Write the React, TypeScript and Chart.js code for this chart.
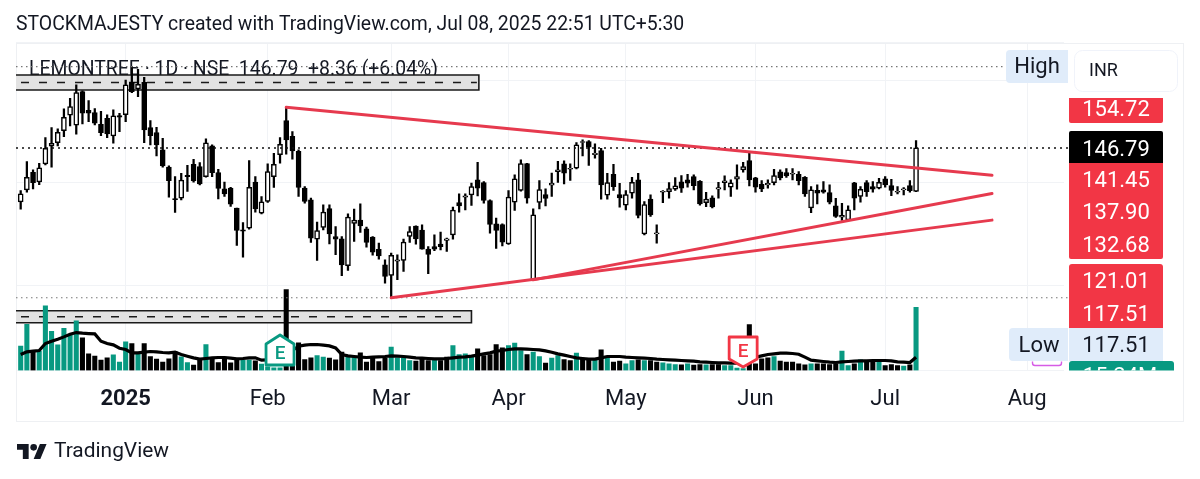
import React, { useEffect, useRef } from "react";
import { Chart, registerables } from "chart.js";

Chart.register(...registerables);

const opens = [136.25,138.59,142.04,140.15,143.67,147.11,147.83,150.17,153.17,151.21,157.79,154.14,153.69,151.41,152.58,149.13,153.10,153.30,159.61,158.31,159.61,150.76,149.78,146.40,143.02,136.90,136.96,141.45,143.60,143.15,141.19,147.18,141.97,138.79,138.92,135.01,130.78,131.11,140.09,134.04,136.31,141.19,145.49,152.13,149.07,146.14,138.92,136.64,128.97,131.24,134.95,129.48,129.03,123.76,132.02,132.67,130.98,129.36,126.95,123.95,121.87,124.67,124.80,129.48,131.50,130.72,127.01,127.53,127.99,128.70,129.81,136.12,137.16,137.62,140.55,140.03,136.51,131.96,131.83,128.05,136.19,138.47,143.74,121.03,136.12,137.68,139.51,142.17,143.67,142.63,142.82,147.84,148.03,145.49,146.27,137.55,141.65,137.68,135.59,137.94,140.54,130.00,136.77,130.00,138.13,138.26,138.72,140.15,140.54,141.19,140.28,136.11,137.03,138.72,140.02,139.11,140.67,142.49,144.31,140.93,139.69,139.56,140.02,142.10,141.97,141.65,141.65,141.06,135.07,138.52,138.59,138.07,135.46,133.25,132.73,139.95,137.29,140.02,139.24,138.91,140.73,139.43,138.13,138.59,139.43,138.30];
const closes = [137.81,141.06,140.02,142.89,146.72,147.70,149.85,152.78,154.86,157.59,153.56,153.56,151.60,149.78,149.52,153.04,152.78,159.09,157.79,159.22,150.30,149.20,147.37,143.28,140.41,136.70,140.48,141.19,140.35,139.76,147.77,141.97,138.85,137.81,135.79,130.65,130.52,139.11,134.88,136.25,142.17,143.60,147.50,148.35,146.20,139.05,136.32,129.16,130.66,134.24,130.00,128.97,123.95,133.26,132.67,131.57,128.31,126.43,125.71,121.68,125.78,124.93,128.38,130.46,129.03,127.01,125.97,127.01,127.47,129.03,134.63,135.47,137.42,139.25,138.92,136.51,131.83,130.66,128.38,137.16,140.74,143.74,136.97,133.71,138.66,136.90,139.90,142.50,141.85,142.82,147.38,148.03,146.92,145.75,139.56,140.02,139.24,137.03,137.68,140.08,133.58,135.72,133.71,130.19,138.33,138.85,139.37,138.91,139.89,139.43,135.85,136.77,135.27,139.04,140.34,139.95,141.19,143.14,140.54,139.11,138.78,139.89,141.39,140.93,141.32,141.84,140.41,137.81,138.59,137.94,138.13,136.18,133.38,133.64,134.68,136.96,138.72,138.26,138.72,140.08,139.56,138.46,138.33,138.78,138.43,146.79];
const highs = [138.46,144.12,142.49,143.80,148.81,150.76,150.50,154.40,156.48,159.09,157.92,156.03,154.47,153.95,153.23,154.21,153.56,160.06,162.66,162.15,160.58,152.13,150.82,148.68,143.28,141.19,141.84,143.41,144.58,143.93,148.55,147.37,142.62,140.09,139.11,135.01,132.21,144.32,141.19,137.29,143.67,145.75,148.81,154.72,149.98,146.40,139.25,136.97,132.28,135.67,135.67,131.44,129.48,133.91,134.82,135.86,131.31,129.48,128.18,124.93,126.23,125.91,128.97,131.44,131.57,131.76,127.53,129.81,130.33,129.16,135.21,137.81,137.81,139.90,143.99,140.22,136.64,133.06,131.96,138.47,141.52,144.45,143.80,134.89,140.42,138.79,141.85,144.19,144.26,143.67,147.84,148.36,148.22,147.57,146.72,141.84,143.60,139.89,138.46,141.06,141.84,136.31,137.61,131.75,138.46,140.02,141.00,141.39,141.65,141.52,140.41,138.13,137.42,140.08,141.32,140.54,143.47,143.99,146.07,141.06,140.41,140.54,142.62,142.49,142.75,142.75,142.17,141.19,139.24,139.56,140.21,139.56,136.96,135.98,135.46,140.08,139.24,140.41,140.21,140.86,141.19,140.67,139.24,139.04,140.41,148.22];
const lows = [134.82,138.13,138.79,139.63,143.47,143.02,147.18,149.00,151.08,149.46,151.47,151.93,151.28,149.20,148.81,147.70,149.98,151.93,157.59,156.81,147.83,147.37,145.23,143.02,137.16,134.17,136.64,138.27,140.09,139.57,141.06,141.19,136.83,137.29,135.34,127.72,125.45,130.91,134.23,133.91,136.12,139.05,143.80,145.55,144.58,137.29,136.00,128.31,124.80,130.79,128.05,125.91,121.81,122.85,128.51,130.27,127.40,125.84,125.06,120.38,117.51,121.03,122.65,128.31,127.99,127.01,122.20,126.69,126.88,126.56,128.97,134.24,134.69,135.54,137.42,135.99,130.14,127.14,127.66,127.92,134.56,138.33,135.99,120.90,134.89,135.47,137.29,140.03,139.77,140.42,142.69,145.23,143.35,144.78,136.77,136.77,138.46,135.20,134.68,136.96,133.12,129.80,133.38,128.18,136.11,136.96,138.46,138.07,139.11,138.59,135.59,135.33,135.07,136.96,138.59,137.29,138.72,142.04,139.37,138.13,138.26,138.91,139.56,140.54,141.00,140.54,139.56,137.29,134.16,135.85,137.94,135.85,133.19,132.60,132.60,134.68,136.18,137.29,138.13,138.78,139.11,137.48,137.81,137.61,138.13,138.26];
const volumes = [5.84,11.12,4.48,4.64,15.52,9.44,6.16,10.16,8.48,11.92,7.84,4.00,3.44,2.48,3.04,3.76,2.00,6.88,6.48,3.92,6.48,3.36,2.72,2.00,2.80,4.48,3.28,1.92,1.28,2.72,6.24,2.88,1.92,3.04,1.84,2.88,2.48,2.48,2.32,1.52,0.88,0.64,0.64,19.44,2.40,6.64,2.64,3.04,3.60,3.20,2.96,2.56,4.40,3.36,3.20,4.24,2.00,3.04,2.16,2.96,5.60,3.04,3.04,2.40,2.24,3.04,2.40,2.80,2.40,3.20,6.00,3.84,4.00,3.20,5.20,3.60,3.84,6.24,5.44,6.00,6.56,4.80,3.84,4.40,3.36,1.76,2.96,3.60,2.64,2.40,4.16,2.80,2.56,2.56,4.96,3.04,2.00,2.24,1.60,2.40,2.56,2.40,2.40,2.00,1.84,1.60,1.44,1.36,1.60,1.28,1.44,1.36,1.44,1.44,1.20,1.20,0.56,0.48,11.04,1.60,2.80,3.04,3.36,2.24,2.00,2.00,1.60,1.36,1.60,1.60,1.60,1.44,1.60,4.64,1.20,1.60,2.56,2.00,2.00,2.00,1.20,1.44,1.20,1.04,1.36,15.20];
const volumeUpDays = [0,1,3,4,5,6,7,8,9,15,16,17,19,26,27,30,36,37,39,40,41,42,48,49,53,54,60,61,62,63,67,70,71,72,73,79,80,81,83,84,86,87,90,93,95,98,99,101,104,105,106,108,111,114,115,116,117,122,128,133,134,136,139,143,145];
const volumeAverage = [3.84,4.48,4.64,4.80,6.48,7.04,7.52,8.08,8.72,9.12,8.96,8.88,8.80,7.04,6.48,6.16,5.36,5.04,4.24,4.24,4.40,4.56,4.48,4.32,4.24,4.40,3.84,3.44,3.04,2.72,2.88,3.04,3.12,3.12,2.96,2.80,2.88,3.04,3.04,2.48,2.56,2.56,2.64,3.60,4.80,5.84,6.08,6.24,6.24,6.08,5.92,5.44,3.84,3.52,3.36,3.20,3.12,3.20,3.28,3.36,3.52,3.44,3.36,3.20,3.04,2.96,2.88,2.80,2.80,2.88,3.04,3.20,3.28,3.44,3.68,4.00,4.24,4.64,4.80,5.04,5.20,5.20,5.12,5.04,4.96,4.72,4.40,4.00,3.68,3.36,3.04,2.88,2.72,2.72,3.04,3.36,3.36,3.36,3.20,3.12,3.04,2.96,2.88,2.72,2.64,2.56,2.48,2.40,2.32,2.24,2.08,2.00,1.92,1.84,1.84,1.76,1.76,1.76,2.40,3.20,3.52,3.84,4.00,4.16,4.16,4.08,3.92,3.20,2.48,2.32,2.16,2.00,1.92,2.08,2.16,2.24,2.32,2.32,2.40,2.40,2.40,2.32,2.08,2.00,1.92,3.20];

const tickIndexes = [17, 40, 60, 79, 98, 119, 140, 163];
const tickLabels = ["2025", "Feb", "Mar", "Apr", "May", "Jun", "Jul", "Aug"];

const trendA = [{ x: 43, y: 154.72 }, { x: 157.3, y: 141.45 }];
const trendB = [{ x: 83, y: 121.01 }, { x: 157.3, y: 137.9 }];
const trendC = [{ x: 60, y: 117.51 }, { x: 157.3, y: 132.68 }];

const lastPrice = 146.79;
const highPrice = 162.66;
const lowPrice = 117.51;
const upperBand = { top: 161.04, bottom: 158.11, end: 74.2 };
const lowerBand = { top: 114.97, bottom: 112.62, end: 73 };
const earningsDays = [42, 117];

const titleText = "STOCKMAJESTY created with TradingView.com, Jul 08, 2025 22:51 UTC+5:30";
const legendText = "LEMONTREE · 1D · NSE  146.79  +8.36 (+6.04%)";
const redTagTexts = ["154.72", "141.45", "137.90", "132.68", "121.01", "117.51"];
const volumeTagText = "15.24M";

const X_MIN = -0.76;
const X_MAX = 168.96;
const FONT = "Roboto, sans-serif";
const RED = "#f23645";
const GREEN = "#089981";
const INK = "#131722";
const BLUE = "#e0ecfa";
const GRID = "#f1f3f6";

const roundedRect = (ctx: any, x: number, y: number, w: number, h: number, r: any, fill: string, stroke?: string) => {
  ctx.beginPath();
  ctx.roundRect(x, y, w, h, r);
  ctx.fillStyle = fill;
  ctx.fill();
  if (stroke) {
    ctx.strokeStyle = stroke;
    ctx.lineWidth = 1;
    ctx.stroke();
  }
};

const drawText = (ctx: any, text: string, x: number, y: number, color: string, size: number, align = "center", weight = "400") => {
  ctx.font = `${weight} ${size}px ${FONT}`;
  ctx.fillStyle = color;
  ctx.textAlign = align;
  ctx.textBaseline = "middle";
  ctx.fillText(text, x, y);
};

const backdrop = {
  id: "backdrop",
  beforeDatasetsDraw(chart: any) {
    const { ctx, scales } = chart;
    ctx.save();
    ctx.strokeStyle = "#eef0f3";
    ctx.lineWidth = 1;
    ctx.strokeRect(16.5, 43.5, 1167, 378);
    ctx.font = `400 19.4px ${FONT}`;
    ctx.fillStyle = INK;
    ctx.textAlign = "left";
    ctx.textBaseline = "alphabetic";
    ctx.fillText(legendText, 29, 75);
    for (const band of [upperBand, lowerBand]) {
      const l = scales.x.getPixelForValue(X_MIN);
      const r = scales.x.getPixelForValue(band.end);
      const t = scales.y.getPixelForValue(band.top);
      const b = scales.y.getPixelForValue(band.bottom);
      ctx.fillStyle = "#e2e2e2";
      ctx.fillRect(l, t, r - l, b - t);
      ctx.strokeStyle = "#1a1a1a";
      ctx.lineWidth = 1.6;
      ctx.beginPath();
      ctx.moveTo(l, t);
      ctx.lineTo(r, t);
      ctx.lineTo(r, b);
      ctx.lineTo(l, b);
      ctx.stroke();
      ctx.setLineDash([8, 10]);
      ctx.lineWidth = 1.4;
      ctx.beginPath();
      ctx.moveTo(l + 5, (t + b) / 2);
      ctx.lineTo(r - 2, (t + b) / 2);
      ctx.stroke();
      ctx.setLineDash([]);
    }
    ctx.restore();
  },
};

const overlay = {
  id: "overlay",
  afterDraw(chart: any) {
    const { ctx, scales } = chart;
    ctx.save();

    // earnings flags
    earningsDays.forEach((day, k) => {
      const cx = scales.x.getPixelForValue(day);
      const color = k === 0 ? GREEN : RED;
      const top = k === 0 ? 335 : 337;
      ctx.beginPath();
      if (k === 0) {
        ctx.moveTo(cx, top);
        ctx.lineTo(cx + 14, top + 9);
        ctx.lineTo(cx + 14, top + 30);
        ctx.lineTo(cx - 14, top + 30);
        ctx.lineTo(cx - 14, top + 9);
      } else {
        ctx.moveTo(cx - 14, top);
        ctx.lineTo(cx + 14, top);
        ctx.lineTo(cx + 14, top + 22);
        ctx.lineTo(cx, top + 30);
        ctx.lineTo(cx - 14, top + 22);
      }
      ctx.closePath();
      ctx.fillStyle = "#ffffff";
      ctx.fill();
      ctx.strokeStyle = color;
      ctx.lineWidth = 2.8;
      ctx.lineJoin = "round";
      ctx.stroke();
      drawText(ctx, "E", cx, k === 0 ? top + 19 : top + 15, color, 19, "center", "500");
    });

    // price tags
    roundedRect(ctx, 1006, 50, 62, 33, [4, 0, 0, 4], BLUE);
    drawText(ctx, "High", 1037, 67.5, INK, 22);
    roundedRect(ctx, 1074.5, 50.5, 103, 41, 8, "#ffffff", "#f0f3fa");
    drawText(ctx, "INR", 1089, 71.5, INK, 18, "left");

    roundedRect(ctx, 1069, 98, 94, 25, [0, 0, 2, 2], RED);
    roundedRect(ctx, 1069, 163, 94, 96, [0, 0, 2, 2], RED);
    roundedRect(ctx, 1069, 264, 94, 64, [3, 3, 0, 0], RED);
    roundedRect(ctx, 1069, 131, 94, 32, [2, 2, 0, 0], "#000000");
    drawText(ctx, lastPrice.toFixed(2), 1116, 150, "#ffffff", 22);
    const redCenters = [110, 181.5, 213.5, 246, 282.5, 315];
    redTagTexts.forEach((t, i) => drawText(ctx, t, 1116, redCenters[i], "#ffffff", 22));

    roundedRect(ctx, 1009, 328, 59, 33, [4, 0, 0, 4], BLUE);
    drawText(ctx, "Low", 1039, 346.5, INK, 22);
    ctx.fillStyle = BLUE;
    ctx.fillRect(1069, 328, 94, 33);
    drawText(ctx, lowPrice.toFixed(2), 1116, 346.5, INK, 22);

    // volume tag, cut off by the time scale as in the source
    ctx.save();
    ctx.beginPath();
    ctx.rect(1060, 355, 125, 15.5);
    ctx.clip();
    roundedRect(ctx, 1069, 361, 105, 20, [3, 3, 0, 0], GREEN);
    drawText(ctx, volumeTagText, 1120, 377.5, "#ffffff", 22);
    ctx.restore();

    // small bracket under Low
    ctx.strokeStyle = "#d65ce6";
    ctx.lineWidth = 1.4;
    ctx.beginPath();
    ctx.moveTo(1032.5, 361.5);
    ctx.lineTo(1032.5, 363);
    ctx.quadraticCurveTo(1032.5, 365.5, 1035, 365.5);
    ctx.lineTo(1059, 365.5);
    ctx.quadraticCurveTo(1061.5, 365.5, 1061.5, 363);
    ctx.lineTo(1061.5, 361.5);
    ctx.stroke();

    // footer logo and word mark
    ctx.translate(17, 440.7);
    ctx.scale(0.833, 0.833);
    ctx.fillStyle = INK;
    ctx.fill(new Path2D("M14 22H7V11H0V4h14v18zM28 22h-8l7.5-18h8L28 22z"));
    ctx.beginPath();
    ctx.arc(20, 8, 4, 0, Math.PI * 2);
    ctx.fill();
    ctx.setTransform(1, 0, 0, 1, 0, 0);
    drawText(ctx, "TradingView", 54, 452, INK, 20.9, "left");
    ctx.restore();
  },
};

const flatLine = (value: number, end: number, color: string, dash: number[], width: number, order: number) => ({
  type: "line",
  data: [{ x: X_MIN, y: value }, { x: end, y: value }],
  yAxisID: "y",
  borderColor: color,
  borderDash: dash,
  borderWidth: width,
  pointRadius: 0,
  clip: false,
  order,
});

const trendLine = (points: any[]) => ({
  type: "line",
  data: points,
  yAxisID: "y",
  borderColor: "#e63a4e",
  borderWidth: 3,
  pointRadius: 0,
  borderCapStyle: "round",
  clip: false,
  order: 1,
});

export default function App() {
  const ref = useRef<HTMLCanvasElement>(null);

  useEffect(() => {
    if (!ref.current) return;
    const upDays = new Set(volumeUpDays);
    const chart = new Chart(ref.current, {
      type: "bar",
      data: {
        datasets: [
          trendLine(trendA),
          trendLine(trendB),
          trendLine(trendC),
          flatLine(lastPrice, 169.77, "#111111", [2, 4], 1.5, 2),
          flatLine(highPrice, 159.9, "#777777", [1.5, 3.5], 1.2, 2),
          flatLine(lowPrice, 169.77, "#777777", [1.5, 3.5], 1.2, 2),
          {
            type: "bar",
            data: opens.map((o, i) => ({ x: i, y: [o, closes[i]] })),
            yAxisID: "y",
            grouped: false,
            barThickness: 5,
            borderWidth: 1.5,
            borderSkipped: false,
            borderColor: "#000000",
            backgroundColor: opens.map((o, i) => (closes[i] >= o ? "#ffffff" : "#000000")),
            order: 3,
          },
          {
            type: "bar",
            data: highs.map((h, i) => ({ x: i, y: [lows[i], h] })),
            yAxisID: "y",
            grouped: false,
            barThickness: 1.6,
            backgroundColor: "#000000",
            order: 4,
          },
          {
            type: "line",
            data: volumeAverage.map((v, i) => ({ x: i, y: v })),
            yAxisID: "y1",
            borderColor: "#000000",
            borderWidth: 3.2,
            pointRadius: 0,
            order: 5,
          },
          {
            type: "bar",
            data: volumes.map((v, i) => ({ x: i, y: v })),
            yAxisID: "y1",
            grouped: false,
            barThickness: 4.4,
            backgroundColor: volumes.map((_, i) => (upDays.has(i) ? GREEN : "#000000")),
            order: 6,
          },
        ] as any,
      },
      options: {
        responsive: false,
        animation: false,
        layout: { padding: { left: 16, right: 136, top: 0, bottom: 58.5 } },
        plugins: {
          legend: { display: false },
          tooltip: { enabled: false },
          title: {
            display: true,
            text: titleText,
            align: "start",
            color: INK,
            font: { family: FONT, size: 19.4, weight: "400", lineHeight: 1.2 },
            padding: { top: 14, bottom: 5.7 },
          },
        },
        scales: {
          x: {
            type: "linear",
            min: X_MIN,
            max: X_MAX,
            offset: false,
            afterBuildTicks(scale: any) {
              scale.ticks = tickIndexes.map((value) => ({ value }));
            },
            afterFit(scale: any) {
              scale.height = 50;
            },
            grid: { color: GRID, drawTicks: false, offset: false },
            border: { display: false },
            ticks: {
              autoSkip: false,
              maxRotation: 0,
              padding: 16,
              color: INK,
              font: (c: any) => ({ family: FONT, size: 22, weight: c.index === 0 ? "700" : "400" }),
              callback: (value: any) => tickLabels[tickIndexes.indexOf(Number(value))] ?? "",
            },
          },
          y: {
            type: "linear",
            min: 103.3,
            max: 167.29,
            afterFit(scale: any) {
              scale.width = 0;
            },
            grid: { color: GRID, drawTicks: false },
            border: { display: false },
            ticks: { display: false, stepSize: 20 },
          },
          y1: { type: "linear", display: false, min: 0, max: 78.7 },
        },
      } as any,
      plugins: [backdrop, overlay],
    });
    return () => chart.destroy();
  }, []);

  return (
    <canvas
      ref={ref}
      width={1200}
      height={479}
      style={{ position: "absolute", left: 0, top: 0, display: "block" }}
    />
  );
}
